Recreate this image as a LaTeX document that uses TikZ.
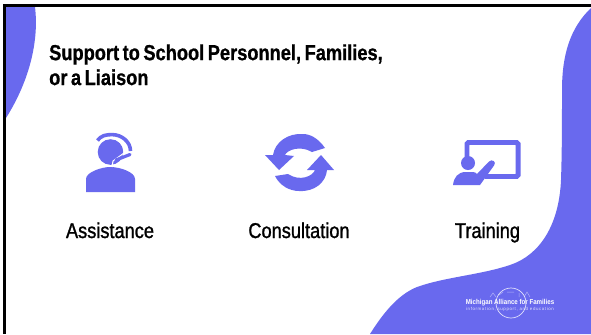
\documentclass[tikz,border=0pt]{standalone}
\usepackage{fontspec}
\setmainfont{Liberation Sans}[FakeStretch=0.86]
\newfontfamily\titlefont{Liberation Sans Bold}[FakeStretch=0.84,FakeBold=0.8,WordSpace=0.7]
\newfontfamily\labelfont{Liberation Sans}[FakeStretch=0.85,FakeBold=1.2]
\newfontfamily\subfont{Liberation Sans}[LetterSpace=14]
\definecolor{blob}{HTML}{6969EE}
\tikzset{
  label text/.style={font=\labelfont\fontsize{21.5}{24}\selectfont, text=black, inner sep=0pt, anchor=base},
  icon/.style={fill=blob, draw=none},
}
\begin{document}
\begin{tikzpicture}[x=1bp,y=-1bp]
\useasboundingbox (0,0) rectangle (591,334);
\fill[white] (0,0) rectangle (591,334);
% blobs
\fill[blob] (6,7) -- (35,7) .. controls (39,40) and (30,80) .. (6,118) -- cycle;
\fill[blob] (591,8) .. controls (570,28) and (562,55) .. (562,90)
  .. controls (562,120) and (562,150) .. (561,180)
  .. controls (559,225) and (540,255) .. (510,265)
  .. controls (480,275) and (445,277) .. (417,287)
  .. controls (397,295) and (382,315) .. (370,334) -- (591,334) -- cycle;
% frame
\fill[black] (3,4) rectangle (591,7);
\fill[black] (3,4) rectangle (6,334);
% title
\node[font=\titlefont\fontsize{21.8}{25}\selectfont, align=left, anchor=north west, inner sep=0pt, text=black] (title) at (49,44.2) {Support to School Personnel, Families,\\or a Liaison};
% headset icon
\fill[icon] (86,192) -- (86,179) .. controls (86,172) and (102,167) .. (110,167) .. controls (120,167) and (135,172) .. (135,179) -- (135,192) -- cycle;
\draw[blob, line width=3.6pt] (97.5,140.5) .. controls (101,135.5) and (106,134.6) .. (112,134.6) .. controls (122,134.6) and (130.5,142) .. (130.5,151);
\fill[icon] (110.5,152) circle (12.8);
\draw[white, line width=1pt] (100,141.5) .. controls (105,138) and (110,137.4) .. (113,138) .. controls (120,139.5) and (125,146) .. (124,153) -- (113,161) -- (112,167);
\draw[blob, line width=3.2pt, line cap=round] (116,160) -- (130,154.5);
% sync icon
\fill[icon] (265,155) -- (279,170) -- (294,156) -- (285,155)
  .. controls (287,150) and (300,145) .. (312,152) -- (325,148)
  .. controls (318,138) and (310,134) .. (303,134) .. controls (288,133) and (275,142) .. (273,155) -- cycle;
\fill[icon] (334,170) -- (321,155) -- (307,170) -- (315,170)
  .. controls (313,176) and (300,182) .. (288,174) -- (275,176)
  .. controls (280,186) and (290,191) .. (299,191) .. controls (315,192) and (326,182) .. (327,170) -- cycle;
% training icon
\draw[blob, line width=5pt, rounded corners=1.5pt] (467,158) -- (467,142.5) -- (518,142.5) -- (518,176.5) -- (485,176.5);
\fill[icon] (468,163) circle (7);
\fill[icon] (453,185) .. controls (454,177) and (458,172) .. (466,172) -- (473,172) .. controls (475,172) and (476,173) .. (477,174) -- (489,161.5) .. controls (492,158.5) and (497,162) .. (494,165.5) -- (480,185) -- cycle;
% labels
\node[label text] (a) at (110,238) {Assistance};
\node[label text] (c) at (299,238) {Consultation};
\node[label text] (t) at (487.5,238) {Training};
% logo
\draw[white, opacity=.8, line width=.7pt] (511,303) circle (15);
\draw[white, opacity=.5, line width=.5pt] (490,297) -- (493,293) -- (496,297) (499,295) -- (503,292) (507,292) -- (514,292) (519,297) -- (519,293) (524,297) -- (527,292) -- (530,297);
\node[font=\bfseries\fontsize{7.2}{8}\selectfont, text=white, inner sep=0pt] (logo) at (510,303) {Michigan Alliance for Families};
\node[font=\subfont\fontsize{4.4}{5}\selectfont, text=white, opacity=.8, inner sep=0pt] (logosub) at (510,309) {information, support, and education};
\end{tikzpicture}
\end{document}
